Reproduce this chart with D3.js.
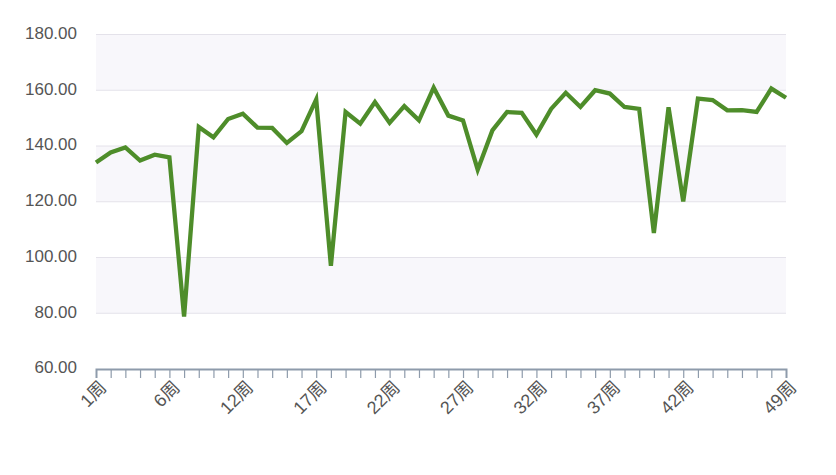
<!DOCTYPE html>
<html><head><meta charset="utf-8">
<script src="https://cdn.jsdelivr.net/npm/d3@7"></script>
<style>body{margin:0;background:#fff;}svg{display:block;}</style>
</head><body>
<svg id="c" width="836" height="475"></svg>
<script>
const weeks = [1,2,3,4,5,6,8,9,10,11,12,13,14,15,16,17,18,19,20,21,22,23,24,25,26,27,28,29,30,31,32,33,34,35,36,37,38,39,40,41,42,43,44,45,46,47,48,49];
const categories = weeks.map(w => w + "周");
const values = [134.1,137.7,139.5,134.8,136.9,135.9,78.8,146.8,143.1,149.7,151.6,146.6,146.5,141.1,145.3,156.7,97.0,152.2,148.0,155.8,148.3,154.3,149.2,160.9,150.9,149.2,131.5,145.6,152.2,151.9,144.1,153.3,159.1,154.0,160.0,158.8,154.0,153.3,108.8,153.9,120.1,157.0,156.5,152.8,152.9,152.2,160.6,157.3];
const yTicks = [60,80,100,120,140,160,180];
const shownLabels = ["1周","6周","12周","17周","22周","27周","32周","37周","42周","49周"];

const svg = d3.select("#c");
const pLeft = 96, pRight = 786, pTop = 34.5, pBottom = 369;
const x = d3.scalePoint().domain(categories).range([pLeft, pRight]);
const y = d3.scaleLinear().domain([60,180]).range([pBottom, pTop]);
const font = "'Liberation Sans', Arial, 'Noto Sans CJK SC', sans-serif";

// alternating bands
for (let i = 0; i < yTicks.length - 1; i++) {
  if (i % 2 === 1) {
    svg.append("rect").attr("x", pLeft).attr("width", pRight-pLeft)
      .attr("y", y(yTicks[i+1])).attr("height", y(yTicks[i]) - y(yTicks[i+1]))
      .attr("fill", "#f8f7fb");
  }
}
// gridlines
svg.append("g").selectAll("line").data(yTicks.slice(1)).join("line")
  .attr("x1", pLeft).attr("x2", pRight)
  .attr("y1", d => y(d)).attr("y2", d => y(d))
  .attr("stroke", "#e4e2ea").attr("stroke-width", 1);

// y axis labels
svg.append("g").selectAll("text").data(yTicks).join("text")
  .attr("x", 77).attr("y", d => y(d) - 1.5).attr("dy", "0.35em")
  .attr("text-anchor", "end")
  .attr("font-family", font)
  .attr("font-size", 17).attr("fill", "#555")
  .text(d => d.toFixed(2));

// x axis
const xAxis = d3.axisBottom(x).tickSizeOuter(0).tickSize(9).tickFormat("");
const gx = svg.append("g").attr("transform", `translate(0,${pBottom})`).call(xAxis);
gx.select(".domain").attr("stroke", "#8e9bab").attr("stroke-width", 2);
gx.selectAll(".tick line").attr("stroke", "#8e9bab").attr("stroke-width", 1.2)
  .attr("display", (d,i) => (i === 0 || i === categories.length-1) ? "none" : null);

svg.append("g").selectAll("text").data(shownLabels).join("text")
  .attr("transform", d => `translate(${x(d)+7},${pBottom+15}) rotate(-45)`)
  .attr("text-anchor", "end").attr("dy", "0.35em")
  .attr("font-family", font)
  .attr("font-size", 18).attr("fill", "#555")
  .text(d => d);

// line
const line = d3.line().x((d,i) => x(categories[i])).y(d => y(d));
svg.append("path").datum(values).attr("d", line)
  .attr("fill", "none").attr("stroke", "#4e8d2a").attr("stroke-width", 4.3)
  .attr("stroke-linejoin", "miter").attr("stroke-miterlimit", 4);
</script>
</body></html>
